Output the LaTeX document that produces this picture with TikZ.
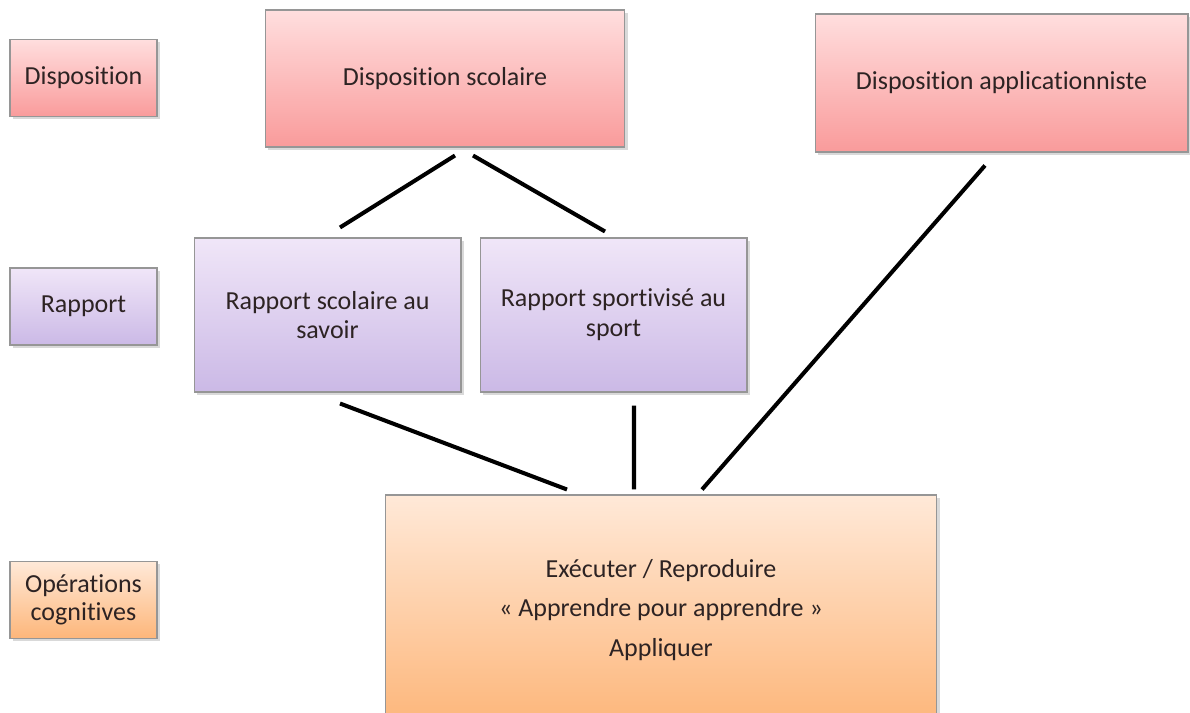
\documentclass[tikz,border=0pt]{standalone}
\usepackage{fontspec}
\setmainfont{Carlito}[Ligatures=NoCommon]
\usepackage{xcolor}
\usepackage{tikz}
\usetikzlibrary{
  calc,
  shadows
}
\definecolor{disptop}{RGB}{255,222,222}
\definecolor{dispbot}{RGB}{249,155,155}
\definecolor{rapptop}{RGB}{240,230,248}
\definecolor{rappbot}{RGB}{203,185,230}
\definecolor{optop}{RGB}{255,233,216}
\definecolor{opbot}{RGB}{253,182,122}
\definecolor{boxline}{RGB}{150,150,150}
\definecolor{boxtext}{RGB}{45,35,35}
\tikzset{
  flowbox/.style={
    draw=boxline,
    line width=0.6pt,
    align=center,
    inner sep=4pt,
    text=boxtext,
    font=\fontsize{14.8}{17}\selectfont,
    drop shadow={opacity=0.3,shadow xshift=1.6pt,shadow yshift=-1.6pt}
  },
  dispbox/.style={flowbox,top color=disptop,bottom color=dispbot},
  rappbox/.style={flowbox,top color=rapptop,bottom color=rappbot},
  opbox/.style={flowbox,top color=optop,bottom color=opbot},
  levelbox/.style={minimum width=2.94cm,minimum height=1.54cm},
  linkline/.style={line width=2.3pt,draw=black}
}
\begin{document}
\begin{tikzpicture}[x=0.02cm,y=-0.02cm]
  \useasboundingbox (0,0) rectangle (1190,713);
  \clip (0,0) rectangle (1190,713);

  % level labels on the left
  \node[dispbox,levelbox] (displab) at (83.5,78) {Disposition};
  \node[rappbox,levelbox] (rapplab) at (83.5,306.5) {Rapport};
  \node[opbox,levelbox,font=\fontsize{14.8}{16}\selectfont] (oplab) at (83.5,600) {Opérations\\cognitives};

  % dispositions
  \node[dispbox,minimum width=7.2cm,minimum height=2.74cm] (dscol) at (445,78.5) {Disposition scolaire};
  \node[dispbox,minimum width=7.46cm,minimum height=2.76cm] (dapp) at (1001.5,83) {Disposition applicationniste};

  % rapports
  \node[rappbox,minimum width=5.34cm,minimum height=3.08cm] (rsav) at (327.5,315) {Rapport scolaire au\\savoir};
  \node[rappbox,minimum width=5.34cm,minimum height=3.08cm] (rspo) at (613.5,315) {Rapport sportivisé au\\sport};

  % operations
  \node[opbox,minimum width=11.04cm,minimum height=4.6cm,font=\fontsize{14.8}{22.7}\selectfont] (exec) at (661,610)
    {Exécuter / Reproduire\\« Apprendre pour apprendre »\\Appliquer};

  \draw[linkline] ($(dscol.south)+(10,8)$) -- ($(rsav.north)+(12.5,-10)$);
  \draw[linkline] ($(dscol.south)+(28,8)$) -- ($(rspo.north)+(-8.5,-6)$);
  \draw[linkline] ($(dapp.south)+(-16.5,13)$) -- ($(exec.north)+(41,-5)$);
  \draw[linkline] ($(rsav.south)+(12.5,11)$) -- ($(exec.north)+(-94,-5)$);
  \draw[linkline] ($(rspo.south)+(20.5,13)$) -- ($(exec.north)+(-27,-5)$);
\end{tikzpicture}
\end{document}
